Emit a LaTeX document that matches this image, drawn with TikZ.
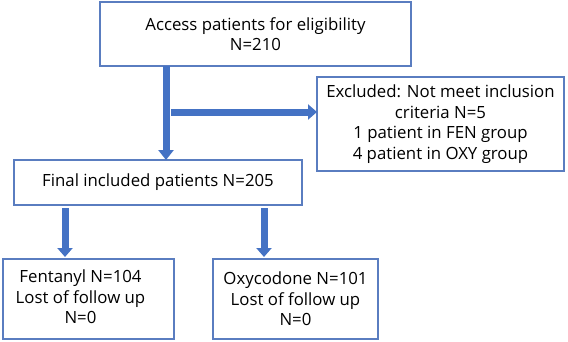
\documentclass[tikz,border=0pt]{standalone}
\usepackage{fontspec}
\setmainfont{Open Sans}
\usetikzlibrary{arrows.meta}
\definecolor{boxblue}{HTML}{5A7DC0}
\definecolor{arrblue}{HTML}{4472C4}
\begin{document}
\begin{tikzpicture}[x=1pt,y=-1pt,
  box/.style={draw=boxblue,line width=1.4pt,fill=white,align=center,inner sep=0pt,outer sep=0pt,
    font=\fontsize{16.8}{20.5}\selectfont},
  bigarrow/.style={draw=arrblue,line width=7pt,-{Triangle[width=15pt,length=9pt]}}]
\useasboundingbox[fill=white] (0,0) rectangle (568,341);
\node[box,minimum width=311pt,minimum height=64pt] (top) at (255.5,34) {Access patients for eligibility\\N=210};
\node[box,minimum width=247pt,minimum height=94pt] (excl) at (440.5,124) {Excluded: Not meet inclusion\\criteria N=5\\1 patient in FEN group\\4 patient in OXY group};
\node[box,minimum width=288pt,minimum height=45pt] (final) at (158,182.5) {\raisebox{-3pt}{Final included patients N=205}};
\node[box,minimum width=171pt,minimum height=80pt] (fen) at (88.5,299) {\begin{tabular}{@{}c@{\hspace{16pt}}}Fentanyl N=104\\Lost of follow up\\N=0\end{tabular}};
\node[box,minimum width=165pt,minimum height=80pt] (oxy) at (295.5,299) {Oxycodone N=101\\Lost of follow up\\N=0};
\coordinate (split) at ([xshift=66pt,yshift=-46pt]top.south west);
\draw[bigarrow,-{Triangle[width=15pt,length=10pt]}] ([xshift=66pt]top.south west) -- ([xshift=66pt]top.south west |- final.north);
\draw[bigarrow] ([xshift=5pt]split) -- (split -| excl.west);
\draw[bigarrow,shorten >=2pt] ([xshift=51pt,yshift=-3pt]final.south west) -- ([xshift=51pt]final.south west |- fen.north);
\draw[bigarrow,shorten >=2pt] ([xshift=250pt,yshift=-3pt]final.south west) -- ([xshift=250pt]final.south west |- oxy.north);
\end{tikzpicture}
\end{document}
